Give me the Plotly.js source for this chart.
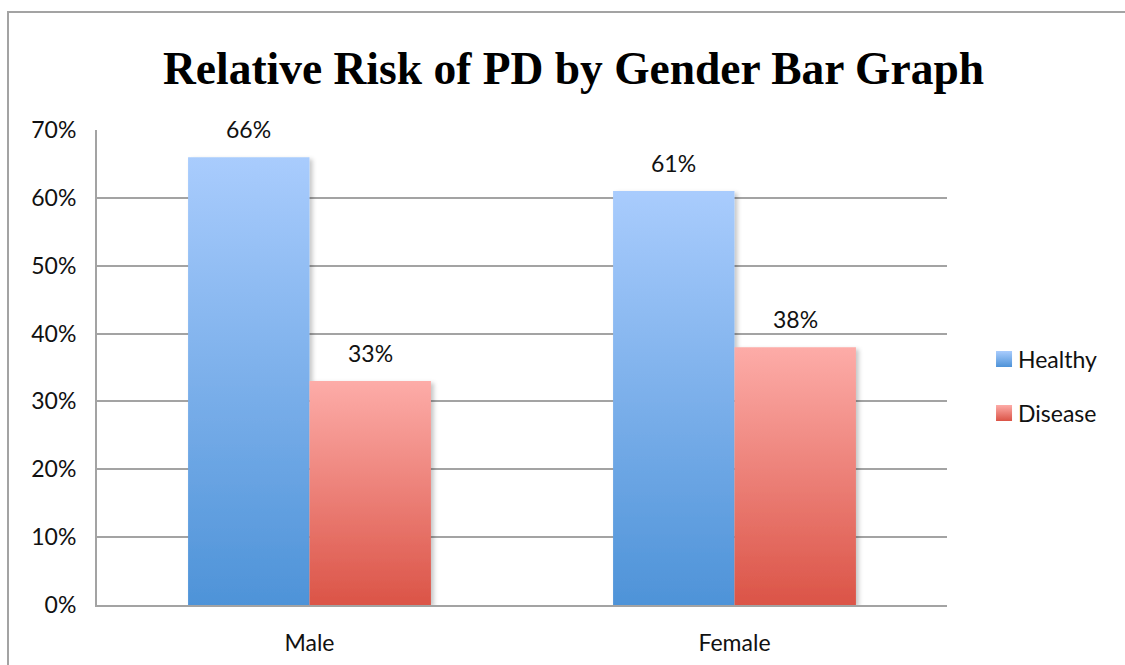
<!DOCTYPE html>
<html>
<head>
<meta charset="utf-8">
<script src="https://cdn.plot.ly/plotly-3.0.1.min.js"></script>
<style>
  html, body { margin: 0; padding: 0; background: #fff; }
  #wrap { position: relative; width: 1125px; height: 665px; overflow: hidden; }
  #chart { width: 1125px; height: 665px; }
  /* open frame round the chart: top and left edges only */
  #frame { position: absolute; left: 7px; top: 11px; width: 1200px; height: 700px;
           border-top: 2px solid #a3a3a3; border-left: 2px solid #a3a3a3; pointer-events: none; }
</style>
</head>
<body>
<div id="wrap"><div id="chart"></div><div id="frame"></div></div>
<script>
// ---- data ----
const genders = ['Male', 'Female'];
const seriesNames = ['Healthy', 'Disease'];
const healthy = [66, 61];   // percent
const disease = [33, 38];   // percent
const yTickVals = [0, 10, 20, 30, 40, 50, 60, 70];
const yTickText = ['0%', '10%', '20%', '30%', '40%', '50%', '60%', '70%'];
const titleText = 'Relative Risk of PD by Gender Bar Graph';

// ---- styling ----
const gradients = [
  { id: 'gradHealthy', top: '#a9ccfd', bottom: '#4e93d8' },
  { id: 'gradDisease', top: '#fdaca8', bottom: '#db5447' }
];
const BAR_GAP = 1.5 / 3.5;          // gap width 150% of a bar
const FONT = 'Lato, "Liberation Sans", sans-serif';
const GRID = '#a3a3a3';

const values = [healthy, disease];
const traces = values.map((vals, j) => ({
  type: 'bar',
  name: seriesNames[j],
  legendgroup: seriesNames[j],
  x: genders,
  y: vals,
  marker: { color: gradients[j].bottom, line: { width: 0 } },
  hoverinfo: 'skip'
}));

// value labels above each bar, placed at the bar centre within its group
const barW = (1 - BAR_GAP) / values.length;
const annotations = [];
values.forEach((vals, j) => {
  vals.forEach((v, i) => {
    annotations.push({
      x: i + (j - (values.length - 1) / 2) * barW,
      y: v,
      xref: 'x', yref: 'y',
      text: v + '%',
      showarrow: false,
      xanchor: 'center', yanchor: 'bottom',
      yshift: 12,
      font: { family: FONT, size: 23, color: '#111' }
    });
  });
});

const layout = {
  width: 1125, height: 665,
  paper_bgcolor: '#fff', plot_bgcolor: '#fff',
  margin: { l: 97, r: 178, t: 130, b: 60 },
  barmode: 'group',
  bargap: BAR_GAP,
  bargroupgap: 0,
  title: {
    text: titleText,
    x: 0.5098, xanchor: 'center', xref: 'container',
    y: 0.897, yanchor: 'middle', yref: 'container',
    font: { family: '"Liberation Serif", "Times New Roman", serif', size: 45.5, weight: 700, color: '#000' }
  },
  font: { family: FONT, size: 23, color: '#111' },
  xaxis: {
    type: 'category',
    showline: true, linecolor: GRID, linewidth: 2,
    showgrid: false, ticks: '',
    ticklabelstandoff: 16,
    tickfont: { family: FONT, size: 23, color: '#111' },
    fixedrange: true
  },
  yaxis: {
    range: [0, 70],
    tickmode: 'array',
    tickvals: yTickVals,
    ticktext: yTickText,
    showline: true, linecolor: GRID, linewidth: 2,
    showgrid: true, gridcolor: GRID, gridwidth: 2,
    zeroline: false,
    ticks: 'outside', ticklen: 14, tickcolor: 'rgba(0,0,0,0)',
    tickfont: { family: FONT, size: 23, color: '#111' },
    fixedrange: true
  },
  legend: {
    x: 1.0365, xanchor: 'left',
    y: 0.461, yanchor: 'middle',
    traceorder: 'grouped',
    tracegroupgap: 21,
    itemwidth: 30,
    font: { family: FONT, size: 23, color: '#111' },
    bgcolor: 'rgba(0,0,0,0)'
  },
  annotations: annotations,
  showlegend: true
};

// fill bars and legend swatches with vertical gradients
function applyGradients(gd) {
  const svg = gd.querySelector('svg.main-svg');
  const NS = 'http://www.w3.org/2000/svg';
  let defs = svg.querySelector('defs');
  if (!defs) { defs = document.createElementNS(NS, 'defs'); svg.insertBefore(defs, svg.firstChild); }
  gradients.forEach(g => {
    const lg = document.createElementNS(NS, 'linearGradient');
    lg.setAttribute('id', g.id);
    lg.setAttribute('x1', '0'); lg.setAttribute('y1', '0');
    lg.setAttribute('x2', '0'); lg.setAttribute('y2', '1');
    [[0, g.top], [1, g.bottom]].forEach(([o, c]) => {
      const st = document.createElementNS(NS, 'stop');
      st.setAttribute('offset', o);
      st.setAttribute('stop-color', c);
      lg.appendChild(st);
    });
    defs.appendChild(lg);
  });
  const filt = document.createElementNS(NS, 'filter');
  filt.setAttribute('id', 'barShadow');
  filt.setAttribute('x', '-10%'); filt.setAttribute('y', '-10%');
  filt.setAttribute('width', '130%'); filt.setAttribute('height', '130%');
  const ds = document.createElementNS(NS, 'feDropShadow');
  ds.setAttribute('dx', '3'); ds.setAttribute('dy', '2');
  ds.setAttribute('stdDeviation', '2');
  ds.setAttribute('flood-color', '#000');
  ds.setAttribute('flood-opacity', '0.22');
  filt.appendChild(ds);
  defs.appendChild(filt);

  gd.querySelectorAll('g.barlayer g.trace.bars').forEach((tr, j) => {
    tr.querySelectorAll('path').forEach(p => {
      p.style.fill = 'url(#' + gradients[j].id + ')';
      p.style.filter = 'url(#barShadow)';
    });
  });
  gd.querySelectorAll('g.legend g.traces').forEach((tr, j) => {
    tr.querySelectorAll('g.legendpoints path').forEach(p => {
      p.setAttribute('d', 'M14,8H-2V-8H14Z');
      p.style.fill = 'url(#' + gradients[j].id + ')';
      p.style.stroke = 'none';
    });
  });
}

Plotly.newPlot('chart', traces, layout, { displayModeBar: false, staticPlot: true, responsive: false })
  .then(applyGradients);
</script>
</body>
</html>
